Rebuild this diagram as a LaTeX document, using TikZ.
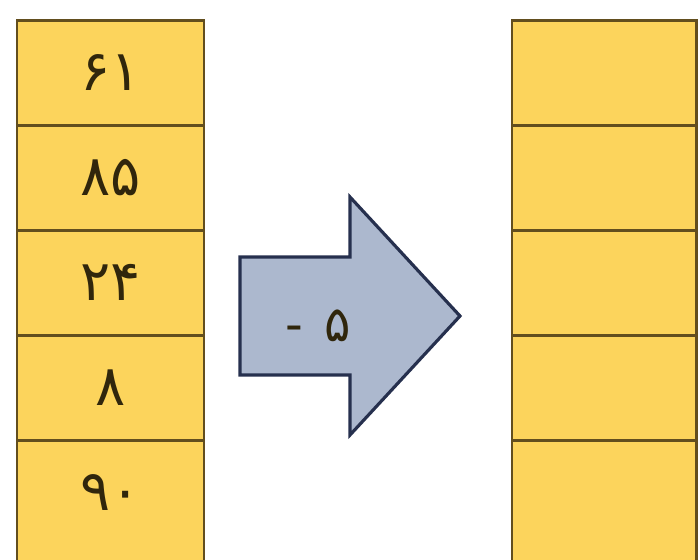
\documentclass[tikz,border=0pt]{standalone}
\usepackage{fontspec}
\newfontfamily\persianfont{DejaVu Sans}
\definecolor{cellfill}{RGB}{252,212,92}
\definecolor{celledge}{RGB}{98,78,30}
\definecolor{arrowfill}{RGB}{172,184,206}
\definecolor{arrowedge}{RGB}{38,48,78}
\definecolor{digitink}{RGB}{48,38,12}
\tikzset{
	cell/.style={fill=cellfill, draw=celledge, line width=1.7pt},
	digit/.style={font=\persianfont\fontsize{32}{36}\selectfont, text=digitink},
	bigarrow/.style={fill=arrowfill, draw=arrowedge, line width=1.8pt, line join=miter}
}
\begin{document}
\begin{tikzpicture}[x=0.02cm, y=-0.02cm]
	\useasboundingbox (0,0) rectangle (700,559);
	\clip (0,0) rectangle (700,559);

	% left column, filled
	\foreach \v [count=\i] in {۶۱,۸۵,۲۴,۸,۹۰} {
			\draw[cell] (17, {20+105*(\i-1)}) rectangle ++(187, {ifthenelse(\i==5,140,105)});
			\node[digit] (a\i) at (110.5, {72.5+105*(\i-1)}) {\v};
		}

	% right column, empty
	\foreach \i in {1,...,5} {
			\draw[cell] (512, {20+105*(\i-1)}) rectangle ++(184, {ifthenelse(\i==5,140,105)});
		}

	\draw[bigarrow] (240,257) -- (350,257) -- (350,197) -- (460,316)
	-- (350,435) -- (350,375) -- (240,375) -- cycle;
	\node[digit, font=\persianfont\fontsize{28}{32}\selectfont] (shift) at (318,326) {-\hspace{0.42cm}۵};
\end{tikzpicture}
\end{document}
